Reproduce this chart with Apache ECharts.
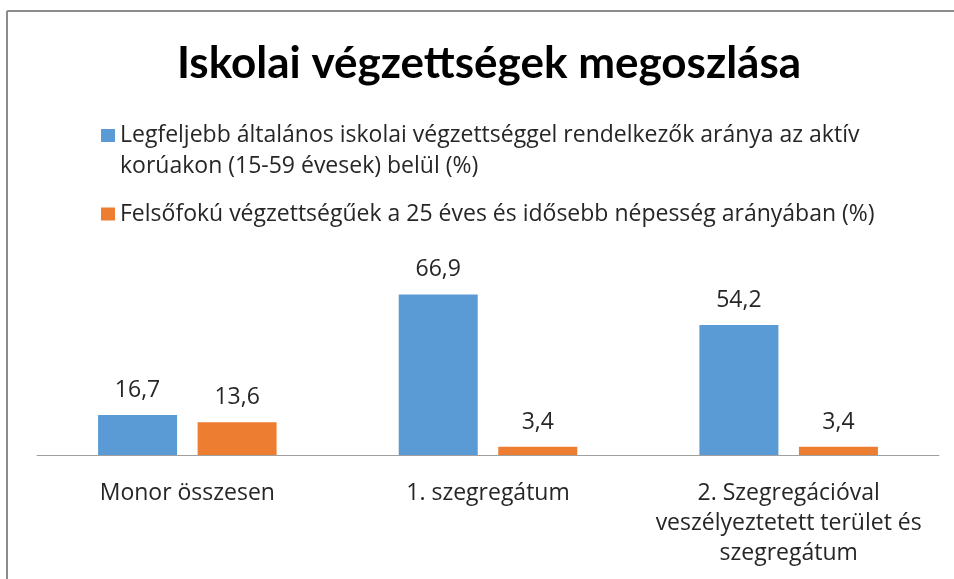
<!DOCTYPE html>
<html>
<head>
<meta charset="utf-8">
<script src="https://cdn.jsdelivr.net/npm/echarts@6/dist/echarts.min.js"></script>
<style>
  html, body { margin: 0; padding: 0; background: #fff; }
  #chart { width: 954px; height: 579px; }
</style>
</head>
<body>
<div id="chart"></div>
<script>
// adatok
const categories = ['Monor összesen', '1. szegregátum', '2. Szegregációval\nveszélyeztetett terület és\nszegregátum'];
const seriesNames = [
  'Legfeljebb általános iskolai végzettséggel rendelkezők aránya az aktív korúakon (15-59 évesek) belül (%)',
  'Felsőfokú végzettségűek a 25 éves és idősebb népesség arányában (%)'
];
const alapfoku = [16.7, 66.9, 54.2];
const felsofoku = [13.6, 3.4, 3.4];

const font = 'Open Sans';
const textColor = '#262626';

const chart = echarts.init(document.getElementById('chart'));

const labelOpt = {
  show: true,
  position: 'top',
  distance: 13,
  fontFamily: font,
  fontSize: 23,
  color: textColor,
  formatter: p => String(p.value).replace('.', ',')
};

chart.setOption({
  animation: false,
  title: {
    text: 'Iskolai végzettségek megoszlása',
    left: 484,
    textAlign: 'center',
    top: 37,
    textStyle: { fontFamily: 'Lato', fontWeight: 'bold', fontSize: 44, color: '#000' }
  },
  legend: [
    {
      data: [seriesNames[0]],
      left: 101,
      top: 89,
      padding: 0,
      icon: 'rect',
      itemWidth: 14,
      itemHeight: 13,
      selectedMode: false,
      // üres első sor, hogy a jelölő az első szövegsorhoz igazodjon
      formatter: () => '\nLegfeljebb általános iskolai végzettséggel rendelkezők aránya az aktív\nkorúakon (15-59 évesek) belül (%)',
      textStyle: { fontFamily: font, fontSize: 23, color: textColor, lineHeight: 31 }
    },
    {
      data: [seriesNames[1]],
      left: 101,
      top: 199,
      padding: 0,
      icon: 'rect',
      itemWidth: 14,
      itemHeight: 13,
      selectedMode: false,
      textStyle: { fontFamily: font, fontSize: 23, color: textColor, lineHeight: 30 }
    }
  ],
  grid: { left: 37, right: 15, top: 263, bottom: 124 },
  xAxis: {
    type: 'category',
    data: categories,
    axisLine: { lineStyle: { color: '#a0a0a0', width: 1 } },
    axisTick: { show: false },
    axisLabel: { fontFamily: font, fontSize: 23, color: textColor, lineHeight: 30, margin: 23, interval: 0 }
  },
  yAxis: {
    type: 'value',
    min: 0,
    max: 80,
    show: false,
    splitLine: { show: false }
  },
  series: [
    {
      name: seriesNames[0],
      type: 'bar',
      data: alapfoku,
      barWidth: 79,
      barGap: '26%',
      itemStyle: { color: '#5B9BD5' },
      label: labelOpt
    },
    {
      name: seriesNames[1],
      type: 'bar',
      data: felsofoku,
      barWidth: 79,
      itemStyle: { color: '#ED7D31' },
      label: labelOpt
    }
  ],
  graphic: [
    { type: 'line', shape: { x1: 7, y1: 11, x2: 954, y2: 11 }, style: { stroke: '#8c8c8c', lineWidth: 2 } },
    { type: 'line', shape: { x1: 7, y1: 11, x2: 7, y2: 579 }, style: { stroke: '#8c8c8c', lineWidth: 2 } }
  ]
});
</script>
</body>
</html>
